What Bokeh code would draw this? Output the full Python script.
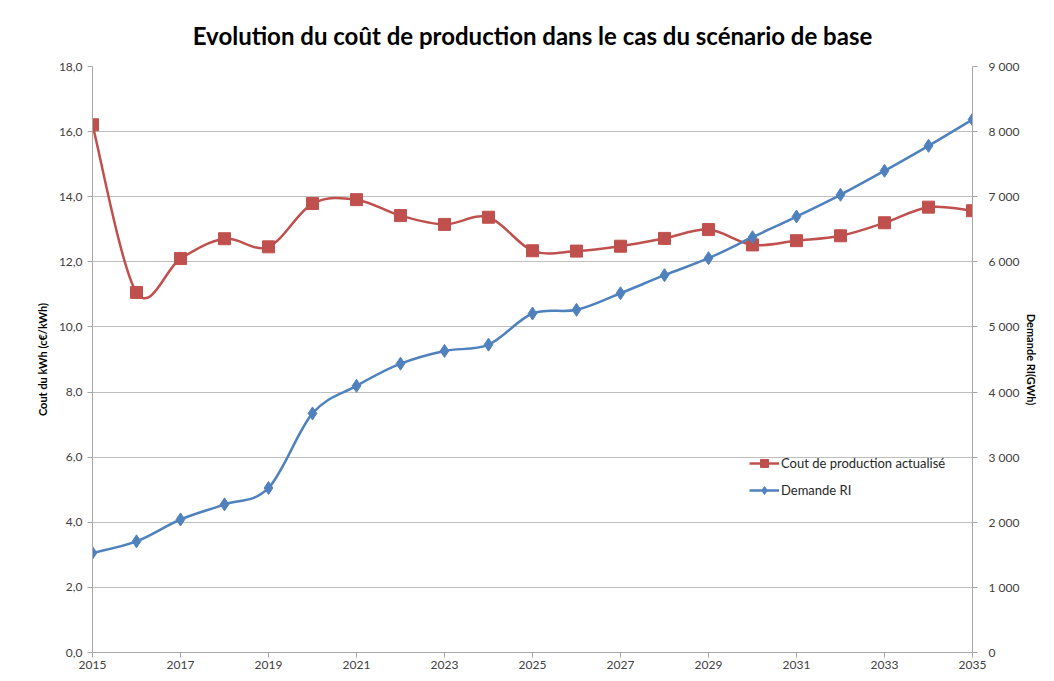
from bokeh.plotting import figure
from bokeh.models import LinearAxis, Range1d, FixedTicker, Legend, LegendItem, ColumnDataSource
from bokeh.embed import file_html
from bokeh.resources import INLINE

years = list(range(2015, 2036))
cout = [16.21, 11.06, 12.10, 12.71, 12.46, 13.79, 13.91, 13.42, 13.15, 13.37,
        12.34, 12.33, 12.48, 12.72, 12.99, 12.52, 12.65, 12.80, 13.20, 13.68, 13.57]
demande = [1530, 1707, 2043, 2275, 2527, 3672, 4095, 4436, 4632, 4728,
           5206, 5263, 5518, 5795, 6056, 6378, 6696, 7030, 7398, 7782, 8186]

left_ticks = [0, 2, 4, 6, 8, 10, 12, 14, 16, 18]
left_labels = ["0,0", "2,0", "4,0", "6,0", "8,0", "10,0", "12,0", "14,0", "16,0", "18,0"]
right_ticks = [0, 1000, 2000, 3000, 4000, 5000, 6000, 7000, 8000, 9000]
right_labels = ["0", "1 000", "2 000", "3 000", "4 000", "5 000", "6 000", "7 000", "8 000", "9 000"]
x_ticks = years[::2]

title = "Evolution du coût de production dans le cas du scénario de base"
left_title = "Cout du kWh (c€/kWh)"
right_title = "Demande RI(GWh)"
names = ["Cout de production actualisé", "Demande RI"]

RED = "#C0504D"
BLUE = "#4F81BD"
FONT = "Lato"


def smooth(xs, ys):
    """Catmull-Rom style bezier segments (Excel-like smoothed line)."""
    n = len(xs)
    d = dict(x0=[], y0=[], x1=[], y1=[], cx0=[], cy0=[], cx1=[], cy1=[])
    for i in range(n - 1):
        a = i - 1 if i > 0 else i
        b = i + 2 if i + 2 < n else i + 1
        d["x0"].append(xs[i]); d["y0"].append(ys[i])
        d["x1"].append(xs[i + 1]); d["y1"].append(ys[i + 1])
        d["cx0"].append(xs[i] + (xs[i + 1] - xs[a]) / 6)
        d["cy0"].append(ys[i] + (ys[i + 1] - ys[a]) / 6)
        d["cx1"].append(xs[i + 1] - (xs[b] - xs[i]) / 6)
        d["cy1"].append(ys[i + 1] - (ys[b] - ys[i]) / 6)
    return ColumnDataSource(d)


p = figure(width=1046, height=673, output_backend="svg", toolbar_location=None,
           x_range=Range1d(2015, 2035), y_range=Range1d(0, 18),
           min_border_left=92, min_border_right=74, min_border_top=66, min_border_bottom=21)
p.extra_y_ranges = {"dem": Range1d(0, 9000)}

p.title.text = title
p.title.text_font = FONT
p.title.text_font_size = "24px"
p.title.text_font_style = "bold"
p.title.text_color = "#000000"
p.title.align = "center"
p.title.standoff = 34

p.outline_line_color = None
p.background_fill_color = "white"
p.border_fill_color = "white"

p.xgrid.grid_line_color = None
p.ygrid.ticker = FixedTicker(ticks=left_ticks)
p.ygrid.grid_line_color = "#BFBFBF"
p.ygrid.grid_line_width = 1

# x axis
xa = p.xaxis[0]
xa.ticker = FixedTicker(ticks=x_ticks)
xa.axis_line_color = "#A6A6A6"
xa.major_tick_line_color = "#A6A6A6"
xa.major_tick_out = 5
xa.major_tick_in = 0
xa.minor_tick_line_color = None
xa.major_label_text_font = FONT
xa.major_label_text_font_size = "12px"
xa.major_label_text_color = "#404040"
xa.major_label_standoff = 3

# left axis
ya = p.yaxis[0]
ya.ticker = FixedTicker(ticks=left_ticks)
ya.major_label_overrides = {t: l for t, l in zip(left_ticks, left_labels)}
ya.axis_label = left_title
ya.axis_label_text_font = FONT
ya.axis_label_text_font_size = "11px"
ya.axis_label_text_font_style = "bold"
ya.axis_label_text_color = "#000000"
ya.axis_label_standoff = 7
ya.axis_line_color = "#A6A6A6"
ya.major_tick_line_color = "#A6A6A6"
ya.major_tick_out = 5
ya.major_tick_in = 0
ya.minor_tick_line_color = None
ya.major_label_text_font = FONT
ya.major_label_text_font_size = "12px"
ya.major_label_text_color = "#404040"
ya.major_label_standoff = 5

# right axis
ra = LinearAxis(y_range_name="dem", ticker=FixedTicker(ticks=right_ticks))
ra.major_label_overrides = {t: l for t, l in zip(right_ticks, right_labels)}
ra.axis_label = right_title
ra.axis_label_text_font = FONT
ra.axis_label_text_font_size = "11px"
ra.axis_label_text_font_style = "bold"
ra.axis_label_text_color = "#000000"
ra.axis_label_standoff = 3
ra.axis_line_color = "#A6A6A6"
ra.major_tick_line_color = "#A6A6A6"
ra.major_tick_out = 5
ra.major_tick_in = 0
ra.minor_tick_line_color = None
ra.major_label_text_font = FONT
ra.major_label_text_font_size = "12px"
ra.major_label_text_color = "#404040"
ra.major_label_standoff = 11
p.add_layout(ra, "right")

# series
r_line = p.bezier(x0="x0", y0="y0", x1="x1", y1="y1", cx0="cx0", cy0="cy0", cx1="cx1", cy1="cy1",
                  source=smooth(years, cout), line_color=RED, line_width=2.5)
r_pts = p.scatter(years, cout, marker="square", size=12, fill_color=RED, line_color=RED)

b_line = p.bezier(x0="x0", y0="y0", x1="x1", y1="y1", cx0="cx0", cy0="cy0", cx1="cx1", cy1="cy1",
                  source=smooth(years, demande), line_color=BLUE, line_width=2.5, y_range_name="dem")
b_pts = p.scatter(years, demande, marker="diamond", size=13, fill_color=BLUE, line_color=BLUE,
                  y_range_name="dem")

legend = Legend(items=[LegendItem(label=names[0], renderers=[r_line, r_pts]),
                       LegendItem(label=names[1], renderers=[b_line, b_pts])],
                location=(657, 152), orientation="vertical")
legend.border_line_color = None
legend.background_fill_alpha = 0
legend.label_text_font = FONT
legend.label_text_font_size = "13px"
legend.label_text_color = "#262626"
legend.glyph_width = 30
legend.label_standoff = 2
legend.spacing = 7
legend.padding = 4
p.add_layout(legend, "center")

open("out.html", "w").write(file_html(p, INLINE))
